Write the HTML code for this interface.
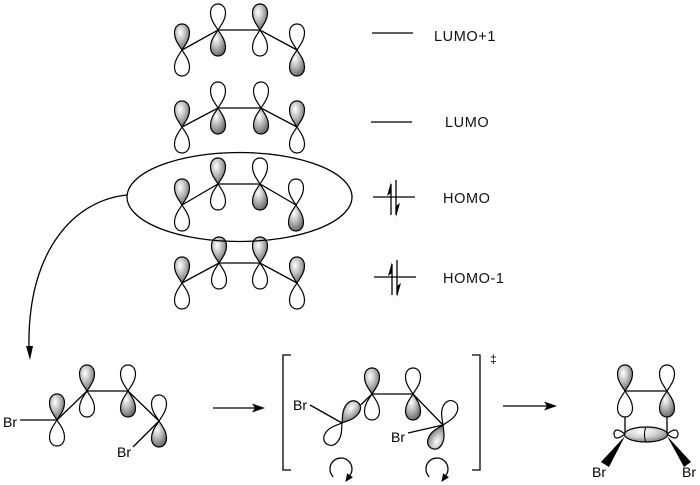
<!DOCTYPE html>
<html><head><meta charset="utf-8">
<style>
html,body{margin:0;padding:0;background:#fff;}
svg{display:block;}
.s{fill:url(#g);}
.w{fill:#fff;}
.L{stroke:#000;stroke-width:1.3;fill:none;}
use{stroke:#000;stroke-width:1.2;}
.lab{font-family:"Liberation Sans",sans-serif;font-size:14.5px;letter-spacing:0.6px;fill:#111;}
.br{font-family:"Liberation Sans",sans-serif;font-size:14px;fill:#000;}
</style></head>
<body>
<svg width="700" height="485" viewBox="0 0 700 485" xmlns="http://www.w3.org/2000/svg">
<defs>
<radialGradient id="g" cx="0.38" cy="0.32" r="0.75">
<stop offset="0" stop-color="#ffffff"/>
<stop offset="0.4" stop-color="#c4c4c4"/>
<stop offset="1" stop-color="#5e5e5e"/>
</radialGradient>
<radialGradient id="g2" cx="0.4" cy="0.3" r="0.8">
<stop offset="0" stop-color="#ffffff"/>
<stop offset="0.5" stop-color="#cfcfcf"/>
<stop offset="1" stop-color="#6a6a6a"/>
</radialGradient>
<path id="u" d="M0,0 C-3,-5 -7.5,-10 -7.5,-17 C-7.5,-23 -4,-26 0,-26 C4,-26 7.5,-23 7.5,-17 C7.5,-10 3,-5 0,0Z"/>
<path id="d" d="M0,0 C-3,5 -7.5,10 -7.5,17 C-7.5,23 -4,26 0,26 C4,26 7.5,23 7.5,17 C7.5,10 3,5 0,0Z"/>
<path id="sm" d="M0,0 C-2,-3 -4,-5 -4,-8 C-4,-10 -2,-11 0,-11 C2,-11 4,-10 4,-8 C4,-5 2,-3 0,0Z"/>
</defs>

<!-- LUMO+1 -->
<polyline class="L" points="182,50 218,30 260,30 297,50"/>
<g transform="translate(182,50)"><use href="#u" class="s"/><use href="#d" class="w"/></g>
<g transform="translate(218,30)"><use href="#u" class="w"/><use href="#d" class="s"/></g>
<g transform="translate(260,30)"><use href="#u" class="s"/><use href="#d" class="w"/></g>
<g transform="translate(297,50)"><use href="#u" class="w"/><use href="#d" class="s"/></g>

<!-- LUMO -->
<polyline class="L" points="182,127 218,108 261,108 297,127"/>
<g transform="translate(182,127)"><use href="#u" class="s"/><use href="#d" class="w"/></g>
<g transform="translate(218,108)"><use href="#u" class="w"/><use href="#d" class="s"/></g>
<g transform="translate(261,108)"><use href="#u" class="w"/><use href="#d" class="s"/></g>
<g transform="translate(297,127)"><use href="#u" class="s"/><use href="#d" class="w"/></g>

<!-- HOMO -->
<polyline class="L" points="182,205 218,184 260,184 296,205"/>
<g transform="translate(182,205)"><use href="#u" class="s"/><use href="#d" class="w"/></g>
<g transform="translate(218,184)"><use href="#u" class="s"/><use href="#d" class="w"/></g>
<g transform="translate(260,184)"><use href="#u" class="w"/><use href="#d" class="s"/></g>
<g transform="translate(296,205)"><use href="#u" class="w"/><use href="#d" class="s"/></g>

<!-- HOMO-1 -->
<polyline class="L" points="182,283 219,263 260,263 297,283"/>
<g transform="translate(182,283)"><use href="#u" class="s"/><use href="#d" class="w"/></g>
<g transform="translate(219,263)"><use href="#u" class="s"/><use href="#d" class="w"/></g>
<g transform="translate(260,263)"><use href="#u" class="s"/><use href="#d" class="w"/></g>
<g transform="translate(297,283)"><use href="#u" class="s"/><use href="#d" class="w"/></g>

<!-- ellipse -->
<ellipse class="L" cx="239.5" cy="197" rx="112.5" ry="44.5"/>

<!-- curved arrow -->
<path class="L" d="M127,195 C75,200 27,250 29,348"/>
<polygon points="30,360 26,346 33,346" fill="#000"/>

<!-- energy levels -->
<line class="L" x1="372" y1="33" x2="413" y2="33"/>
<line class="L" x1="371" y1="122" x2="412" y2="122"/>
<line class="L" x1="373" y1="197" x2="415" y2="197"/>
<line class="L" x1="391" y1="215" x2="391" y2="184"/>
<polygon points="391,182 387,196 391,193" fill="#000"/>
<line class="L" x1="396" y1="180" x2="396" y2="215"/>
<polygon points="396,217 400,203 396,206" fill="#000"/>
<line class="L" x1="374" y1="277" x2="416" y2="277"/>
<line class="L" x1="392" y1="295" x2="392" y2="264"/>
<polygon points="392,262 388,276 392,273" fill="#000"/>
<line class="L" x1="397" y1="260" x2="397" y2="295"/>
<polygon points="397,297 401,283 397,286" fill="#000"/>

<text class="lab" x="434" y="41">LUMO+1</text>
<text class="lab" x="445" y="127">LUMO</text>
<text class="lab" x="443" y="203">HOMO</text>
<text class="lab" x="443" y="283">HOMO-1</text>

<!-- bottom left molecule -->
<polyline class="L" points="57,420 87,391 128,391 159,421"/>
<line class="L" x1="20" y1="420" x2="57" y2="420"/>
<line class="L" x1="159" y1="421" x2="133" y2="447"/>
<g transform="translate(57,420)"><use href="#u" class="s"/><use href="#d" class="w"/></g>
<g transform="translate(87,391)"><use href="#u" class="s"/><use href="#d" class="w"/></g>
<g transform="translate(128,391)"><use href="#u" class="w"/><use href="#d" class="s"/></g>
<g transform="translate(159,421)"><use href="#u" class="w"/><use href="#d" class="s"/></g>
<text class="br" x="3" y="427">Br</text>
<text class="br" x="117" y="457">Br</text>

<!-- arrow 1 -->
<line class="L" x1="213" y1="408" x2="255" y2="408"/>
<polygon points="265,408 252,403.5 255,408 252,412.5" fill="#000"/>

<!-- brackets -->
<polyline class="L" points="291,355 283,355 283,470 291,470"/>
<polyline class="L" points="472,355 480,355 480,470 472,470"/>
<text x="490" y="363" style="font-family:'Liberation Sans','DejaVu Sans',sans-serif;font-size:12px;">‡</text>

<!-- middle molecule -->
<polyline class="L" points="342,423 372,394 413,394 443,425"/>
<line class="L" x1="342" y1="423" x2="310" y2="405"/>
<line class="L" x1="443" y1="425" x2="408" y2="433"/>
<g transform="translate(372,394)"><use href="#u" class="s"/><use href="#d" class="w"/></g>
<g transform="translate(413,394)"><use href="#u" class="w"/><use href="#d" class="s"/></g>
<g transform="translate(342,423)"><use href="#u" class="s" transform="rotate(37)"/><use href="#u" class="w" transform="rotate(216)"/></g>
<g transform="translate(443,425)"><use href="#u" class="w" transform="rotate(24)"/><use href="#u" class="s" transform="rotate(206)"/></g>
<text class="br" x="293" y="410">Br</text>
<text class="br" x="391" y="442">Br</text>

<!-- rotation arrows -->
<path class="L" d="M333.2,476.8 A11,11 0 1,1 350,475.3"/>
<polygon points="345.4,482 352.9,477.3 347.1,473.3" fill="#000"/>
<path class="L" d="M429.2,476.8 A11,11 0 1,1 446,475.3"/>
<polygon points="441.4,482 448.9,477.3 443.1,473.3" fill="#000"/>

<!-- arrow 2 -->
<line class="L" x1="503" y1="406" x2="547" y2="406"/>
<polygon points="557,406 544,401.5 547,406 544,410.5" fill="#000"/>

<!-- right molecule -->
<polyline class="L" points="625,436 625,391 667,391 667,436"/>
<g transform="translate(625,391)"><use href="#u" class="s"/><use href="#d" class="w"/></g>
<g transform="translate(667,391)"><use href="#u" class="w"/><use href="#d" class="s"/></g>
<polygon points="625,436 601,462 609,467" fill="#000"/>
<polygon points="667,436 684,467 691,462" fill="#000"/>
<g transform="translate(625,434)"><use href="#sm" class="w" transform="rotate(-90)"/></g>
<g transform="translate(667,434)"><use href="#sm" class="w" transform="rotate(90)"/></g>
<ellipse cx="646" cy="434.5" rx="21.5" ry="7.5" fill="url(#g2)" stroke="#000" stroke-width="1.2"/>
<path d="M646,427 C644,431 644,438 646,442" fill="none" stroke="#000" stroke-width="1"/>
<text class="br" x="592" y="477">Br</text>
<text class="br" x="682" y="477">Br</text>
</svg>
</body></html>
